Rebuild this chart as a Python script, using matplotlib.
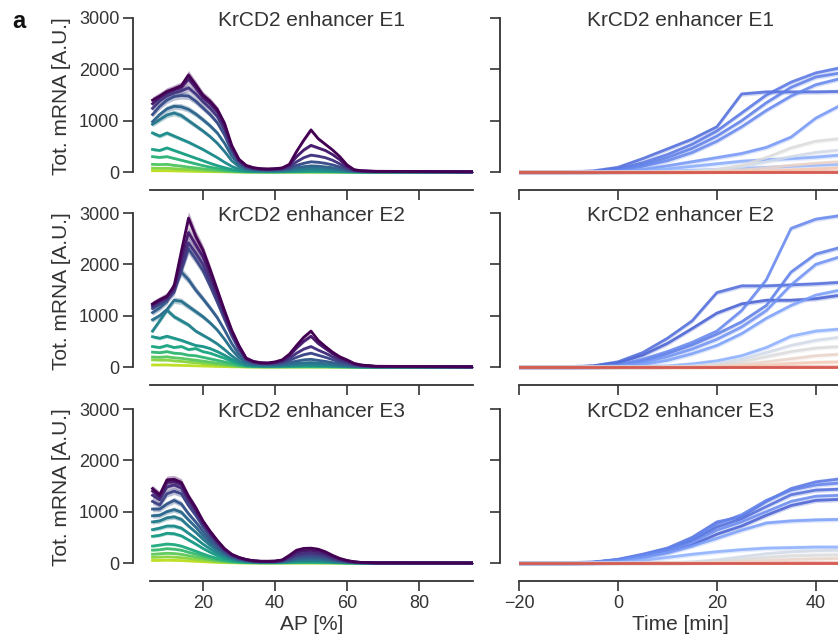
import matplotlib
matplotlib.use("Agg")
import matplotlib.pyplot as plt
import numpy as np

plt.rcParams['font.family'] = ['Liberation Sans', 'DejaVu Sans']

# AP positions [%] of the profile bins (left column)
ap_bins = [6, 8, 10, 12, 14, 16, 18, 20, 22, 24, 26, 28, 30, 32, 34, 36, 38, 40, 42, 44,
           46, 48, 50, 52, 54, 56, 58, 60, 62, 64, 68, 95]

# time points [min] of the traces (right column)
time_min = [-20, -15, -10, -5, 0, 5, 10, 15, 20, 25, 30, 35, 40, 45]

titles = ["KrCD2 enhancer E1", "KrCD2 enhancer E2", "KrCD2 enhancer E3"]

# --- cumulative mRNA along AP, latest time point first ---
e1_profiles = [
    [1400, 1480, 1570, 1620, 1680, 1890, 1700, 1500, 1380, 1220, 950, 520, 250, 130, 85, 65, 60, 65, 80, 150, 400, 620, 820, 650, 540, 430, 300, 140, 45, 25, 15, 5],
    [1330, 1450, 1540, 1600, 1650, 1810, 1640, 1450, 1330, 1170, 900, 490, 235, 120, 80, 60, 55, 60, 75, 130, 300, 430, 520, 470, 420, 340, 240, 110, 40, 22, 12, 4],
    [1240, 1380, 1480, 1540, 1580, 1640, 1520, 1370, 1240, 1080, 820, 450, 215, 105, 70, 55, 50, 55, 65, 100, 200, 280, 330, 310, 280, 230, 160, 80, 32, 18, 10, 3],
    [1120, 1280, 1400, 1470, 1490, 1480, 1380, 1250, 1120, 960, 720, 400, 190, 90, 60, 48, 44, 46, 52, 75, 130, 170, 200, 190, 170, 140, 100, 55, 25, 14, 8, 2],
    [980, 1120, 1230, 1280, 1270, 1220, 1130, 1020, 900, 760, 560, 310, 150, 70, 48, 38, 35, 36, 40, 55, 85, 105, 120, 115, 100, 85, 60, 35, 16, 9, 5, 2],
    [930, 1020, 1110, 1150, 1100, 1000, 900, 800, 690, 560, 400, 220, 105, 50, 35, 28, 26, 27, 30, 38, 55, 65, 75, 72, 62, 52, 38, 22, 10, 6, 3, 1],
    [760, 700, 760, 700, 640, 580, 510, 440, 360, 280, 190, 110, 55, 28, 20, 16, 14, 14, 16, 20, 26, 32, 36, 34, 30, 24, 17, 10, 5, 3, 2, 1],
    [440, 420, 470, 420, 370, 320, 270, 220, 170, 125, 85, 50, 26, 13, 9, 7, 6, 6, 7, 9, 11, 13, 15, 14, 12, 10, 7, 4, 2, 1, 1, 0],
    [300, 285, 300, 265, 230, 195, 160, 125, 95, 70, 45, 27, 14, 7, 5, 4, 3, 3, 4, 5, 6, 7, 8, 7, 6, 5, 3, 2, 1, 1, 0, 0],
    [150, 145, 150, 130, 115, 95, 80, 62, 47, 34, 22, 13, 7, 3, 2, 2, 2, 2, 2, 2, 3, 3, 4, 3, 3, 2, 1, 1, 0, 0, 0, 0],
    [75, 72, 75, 65, 57, 48, 40, 31, 23, 17, 11, 6, 3, 2, 1, 1, 1, 1, 1, 1, 1, 1, 2, 1, 1, 1, 0, 0, 0, 0, 0, 0],
    [25, 25, 25, 22, 19, 16, 13, 10, 8, 6, 4, 2, 1, 0, 0, 0, 0, 0, 0, 0, 0, 0, 0, 0, 0, 0, 0, 0, 0, 0, 0, 0],
]

e2_profiles = [
    [1230, 1310, 1380, 1580, 2250, 2900, 2550, 2280, 1900, 1500, 1100, 720, 420, 175, 110, 85, 80, 100, 140, 250, 420, 580, 700, 520, 400, 290, 200, 140, 70, 40, 15, 5],
    [1210, 1290, 1360, 1550, 2100, 2620, 2380, 2150, 1800, 1430, 1050, 690, 400, 165, 105, 80, 75, 90, 125, 220, 370, 500, 600, 460, 360, 260, 180, 125, 62, 35, 13, 4],
    [1180, 1260, 1330, 1500, 1950, 2420, 2220, 2000, 1680, 1340, 990, 650, 370, 155, 95, 72, 68, 80, 105, 170, 270, 350, 400, 330, 270, 200, 140, 100, 50, 28, 10, 3],
    [1140, 1220, 1300, 1460, 1880, 2300, 2100, 1880, 1580, 1260, 930, 610, 340, 140, 88, 66, 62, 70, 90, 130, 190, 240, 270, 230, 190, 145, 100, 72, 38, 22, 8, 2],
    [1060, 1150, 1280, 1600, 1850, 1700, 1500, 1330, 1150, 960, 720, 460, 250, 110, 70, 52, 48, 52, 62, 85, 115, 140, 150, 130, 110, 85, 60, 42, 22, 13, 5, 1],
    [920, 1000, 1120, 1300, 1280, 1180, 1080, 980, 860, 720, 540, 340, 180, 80, 50, 38, 35, 37, 43, 55, 70, 82, 88, 78, 65, 50, 35, 25, 13, 8, 3, 1],
    [700, 900, 1110, 980, 900, 820, 700, 620, 540, 450, 340, 220, 115, 50, 32, 24, 22, 23, 26, 32, 40, 46, 48, 43, 36, 28, 20, 14, 7, 4, 2, 0],
    [590, 560, 600, 560, 520, 470, 420, 400, 360, 300, 230, 150, 80, 36, 22, 16, 15, 15, 17, 20, 24, 27, 28, 25, 21, 16, 11, 8, 4, 2, 1, 0],
    [400, 380, 420, 380, 400, 340, 360, 300, 270, 220, 170, 110, 60, 27, 16, 12, 11, 11, 12, 14, 17, 19, 20, 18, 15, 11, 8, 5, 3, 2, 1, 0],
    [290, 280, 300, 270, 260, 230, 220, 190, 160, 130, 100, 65, 35, 16, 10, 7, 6, 6, 7, 8, 9, 10, 10, 9, 8, 6, 4, 3, 2, 1, 0, 0],
    [195, 190, 200, 180, 170, 150, 135, 115, 95, 75, 55, 35, 18, 8, 5, 4, 3, 3, 3, 4, 4, 5, 5, 4, 4, 3, 2, 1, 1, 0, 0, 0],
    [140, 135, 135, 120, 110, 95, 85, 70, 57, 45, 32, 20, 10, 5, 3, 2, 2, 2, 2, 2, 2, 3, 3, 2, 2, 1, 1, 1, 0, 0, 0, 0],
    [40, 40, 40, 36, 32, 28, 24, 20, 16, 12, 9, 5, 3, 1, 1, 0, 0, 0, 0, 0, 0, 0, 0, 0, 0, 0, 0, 0, 0, 0, 0, 0],
]

e3_profiles = [
    [1450, 1330, 1620, 1630, 1570, 1300, 1080, 820, 620, 440, 280, 170, 110, 70, 45, 35, 35, 38, 60, 150, 250, 285, 290, 270, 220, 150, 90, 50, 25, 12, 4, 0],
    [1400, 1290, 1570, 1590, 1530, 1270, 1050, 800, 600, 425, 270, 165, 105, 66, 43, 34, 33, 36, 55, 130, 210, 240, 245, 230, 190, 130, 80, 45, 22, 10, 3, 0],
    [1320, 1230, 1480, 1520, 1460, 1210, 1000, 760, 570, 400, 255, 155, 98, 62, 40, 32, 31, 33, 48, 105, 165, 190, 195, 185, 155, 105, 65, 37, 18, 8, 3, 0],
    [1200, 1130, 1350, 1400, 1350, 1120, 930, 710, 530, 370, 235, 143, 90, 57, 37, 29, 28, 30, 42, 85, 130, 150, 155, 148, 125, 85, 52, 30, 15, 7, 2, 0],
    [1050, 1050, 1150, 1220, 1150, 960, 800, 620, 460, 320, 205, 125, 78, 50, 32, 25, 24, 26, 35, 65, 95, 110, 115, 110, 93, 64, 40, 23, 11, 5, 2, 0],
    [920, 930, 1000, 1040, 990, 840, 700, 540, 400, 280, 180, 110, 68, 44, 28, 22, 21, 22, 29, 50, 70, 80, 84, 80, 68, 47, 30, 17, 8, 4, 1, 0],
    [800, 820, 880, 900, 850, 720, 600, 465, 345, 240, 155, 95, 58, 37, 24, 19, 18, 19, 24, 38, 52, 58, 60, 57, 48, 34, 22, 12, 6, 3, 1, 0],
    [650, 680, 720, 720, 680, 580, 480, 370, 275, 190, 125, 76, 47, 30, 19, 15, 14, 15, 18, 27, 36, 40, 41, 39, 33, 23, 15, 8, 4, 2, 1, 0],
    [520, 540, 580, 570, 530, 450, 370, 285, 210, 145, 95, 58, 36, 23, 15, 12, 11, 11, 13, 19, 25, 28, 28, 27, 22, 16, 10, 5, 3, 1, 0, 0],
    [330, 350, 370, 360, 330, 280, 230, 178, 130, 90, 59, 36, 22, 14, 9, 7, 7, 7, 8, 11, 14, 16, 16, 15, 12, 9, 6, 3, 2, 1, 0, 0],
    [250, 260, 280, 270, 250, 210, 175, 135, 100, 68, 44, 27, 17, 10, 7, 5, 5, 5, 6, 8, 10, 11, 11, 10, 8, 6, 4, 2, 1, 1, 0, 0],
    [170, 180, 190, 185, 170, 145, 120, 92, 68, 46, 30, 18, 11, 7, 5, 4, 3, 3, 4, 5, 6, 7, 7, 6, 5, 4, 2, 1, 1, 0, 0, 0],
    [110, 115, 120, 115, 105, 90, 75, 58, 43, 29, 19, 11, 7, 4, 3, 2, 2, 2, 2, 3, 3, 4, 4, 3, 3, 2, 1, 1, 0, 0, 0, 0],
    [50, 52, 55, 52, 48, 41, 34, 26, 19, 13, 8, 5, 3, 2, 1, 1, 1, 1, 1, 1, 1, 1, 1, 1, 1, 1, 0, 0, 0, 0, 0, 0],
]

# --- cumulative mRNA over time, one trace per AP bin ---
e1_trace_ap = [7.5, 10, 12, 14, 18, 24, 28, 46, 50, 56, 62, 92]
e1_traces = [
    [0, 0, 0, 20, 90, 260, 450, 640, 880, 1520, 1560, 1560, 1560, 1570],
    [0, 0, 0, 10, 60, 180, 340, 540, 800, 1150, 1500, 1750, 1930, 2030],
    [0, 0, 0, 5, 40, 140, 280, 460, 700, 1000, 1350, 1650, 1850, 1930],
    [0, 0, 0, 5, 30, 110, 220, 380, 600, 880, 1200, 1480, 1700, 1820],
    [0, 0, 0, 0, 10, 50, 120, 200, 280, 360, 480, 680, 1050, 1300],
    [0, 0, 0, 0, 5, 20, 60, 110, 160, 210, 240, 260, 290, 330],
    [0, 0, 0, 0, 0, 5, 15, 30, 50, 70, 90, 110, 130, 150],
    [0, 0, 0, 0, 0, 0, 5, 15, 40, 100, 200, 300, 380, 430],
    [0, 0, 0, 0, 0, 0, 5, 15, 50, 130, 280, 470, 600, 650],
    [0, 0, 0, 0, 0, 0, 0, 5, 15, 40, 80, 130, 170, 200],
    [0, 0, 0, 0, 0, 0, 0, 0, 5, 10, 20, 40, 60, 80],
    [0, 0, 0, 0, 0, 0, 0, 0, 0, 0, 0, 0, 0, 0],
]

e2_trace_ap = [5, 7.5, 12, 14, 17, 20, 25, 46, 50, 55, 60, 92]
e2_traces = [
    [0, 0, 0, 20, 80, 230, 460, 750, 1050, 1230, 1300, 1300, 1330, 1400],
    [0, 0, 0, 20, 100, 280, 560, 900, 1450, 1580, 1580, 1600, 1620, 1650],
    [0, 0, 0, 5, 30, 120, 260, 430, 640, 880, 1200, 1850, 2200, 2330],
    [0, 0, 0, 5, 40, 150, 300, 480, 700, 1100, 1700, 2700, 2880, 2950],
    [0, 0, 0, 0, 20, 90, 200, 350, 540, 780, 1100, 1600, 2000, 2150],
    [0, 0, 0, 0, 10, 50, 130, 260, 420, 650, 950, 1200, 1400, 1500],
    [0, 0, 0, 0, 0, 10, 20, 60, 120, 220, 380, 600, 700, 740],
    [0, 0, 0, 0, 0, 0, 5, 20, 60, 150, 280, 420, 520, 580],
    [0, 0, 0, 0, 0, 0, 0, 10, 40, 100, 200, 300, 370, 400],
    [0, 0, 0, 0, 0, 0, 0, 5, 20, 50, 100, 160, 220, 250],
    [0, 0, 0, 0, 0, 0, 0, 0, 5, 20, 40, 70, 90, 100],
    [0, 0, 0, 0, 0, 0, 0, 0, 0, 0, 0, 0, 0, 0],
]

e3_trace_ap = [5, 7.5, 10, 12.5, 15, 20, 25, 46, 50, 55, 92]
e3_traces = [
    [0, 0, 0, 10, 50, 120, 210, 350, 560, 720, 930, 1120, 1220, 1240],
    [0, 0, 0, 12, 60, 150, 260, 440, 700, 860, 1100, 1330, 1420, 1440],
    [0, 0, 0, 15, 70, 170, 290, 500, 800, 900, 1200, 1450, 1580, 1640],
    [0, 0, 0, 15, 65, 160, 280, 470, 760, 940, 1220, 1420, 1520, 1560],
    [0, 0, 0, 10, 55, 140, 240, 400, 640, 800, 1000, 1200, 1300, 1320],
    [0, 0, 0, 0, 20, 100, 200, 330, 480, 640, 780, 820, 840, 850],
    [0, 0, 0, 0, 10, 50, 110, 170, 220, 260, 290, 300, 310, 310],
    [0, 0, 0, 0, 0, 0, 5, 20, 60, 120, 180, 220, 240, 250],
    [0, 0, 0, 0, 0, 0, 0, 10, 30, 70, 110, 140, 150, 160],
    [0, 0, 0, 0, 0, 0, 0, 5, 10, 30, 50, 70, 80, 90],
    [0, 0, 0, 0, 0, 0, 0, 0, 0, 0, 0, 0, 0, 0],
]

profiles = [e1_profiles, e2_profiles, e3_profiles]
trace_ap = [e1_trace_ap, e2_trace_ap, e3_trace_ap]
traces = [e1_traces, e2_traces, e3_traces]

# rough width of the shaded error bands
band_frac = 0.04
trace_err = 45

ink = '#333333'

fig = plt.figure(figsize=(8.38, 6.41), dpi=100)

W, H = 838.0, 641.0
col_left = [150 / W, 519 / W]
col_width = 323 / W
row_bottom = [(H - 174.6) / H, (H - 369.6) / H, (H - 565.6) / H]
row_height = 156.6 / H


def style_axes(ax, yoff):
    ax.spines['top'].set_visible(False)
    ax.spines['right'].set_visible(False)
    ax.spines['left'].set_position(('outward', yoff))
    ax.spines['bottom'].set_position(('outward', 11))
    ax.spines['left'].set_bounds(0, 3000)
    for s in ['left', 'bottom']:
        ax.spines[s].set_linewidth(1.3)
        ax.spines[s].set_color(ink)
    ax.set_ylim(-50, 3000)
    ax.set_yticks([0, 1000, 2000, 3000])
    ax.tick_params(length=7, width=1.2, color=ink, labelcolor=ink, labelsize=13, pad=3)
    ax.patch.set_alpha(0)


for r in range(3):
    # left column: profiles along AP
    ax = fig.add_axes([col_left[0], row_bottom[r], col_width, row_height])
    style_axes(ax, 12)
    n = len(profiles[r])
    for i in reversed(range(n)):
        c = plt.cm.viridis(0.9 * i / (n - 1))
        y = np.array(profiles[r][i], dtype=float)
        ax.fill_between(ap_bins, y * (1 - band_frac) - 10, y * (1 + band_frac) + 10,
                        color=c, alpha=0.35, lw=0)
        ax.plot(ap_bins, y, color=c, lw=2.0, solid_joinstyle='round')
    ax.set_xlim(5.3, 95)
    ax.set_xticks([20, 40, 60, 80])
    ax.set_ylabel('Tot. mRNA [A.U.]', fontsize=15, color=ink, labelpad=6)
    ax.text(0.5, 0.985, titles[r], transform=ax.transAxes, ha='center', va='center',
            fontsize=15, color=ink)
    if r < 2:
        ax.set_xticklabels([])
    else:
        ax.set_xlabel('AP [%]', fontsize=15, color=ink, labelpad=2)

    # right column: traces over time
    ax = fig.add_axes([col_left[1], row_bottom[r], col_width, row_height])
    style_axes(ax, 13.5)
    for a, tr in zip(trace_ap[r], traces[r]):
        c = plt.cm.coolwarm(a / 100)
        y = np.array(tr, dtype=float)
        ax.fill_between(time_min, y - trace_err, y + trace_err, color=c, alpha=0.25, lw=0)
        ax.plot(time_min, y, color=c, lw=2.0, alpha=0.85, solid_joinstyle='round')
    ax.set_xlim(-20, 45.3)
    ax.set_xticks([-20, 0, 20, 40])
    ax.set_yticklabels([])
    ax.text(0.5, 0.985, titles[r], transform=ax.transAxes, ha='center', va='center',
            fontsize=15, color=ink)
    if r < 2:
        ax.set_xticklabels([])
    else:
        ax.set_xlabel('Time [min]', fontsize=15, color=ink, labelpad=2)

fig.text(19 / W, 1 - 21 / H, 'a', fontsize=17, fontweight='bold', ha='center', va='center', color='#111111')

fig.savefig('out.png', dpi=100)
